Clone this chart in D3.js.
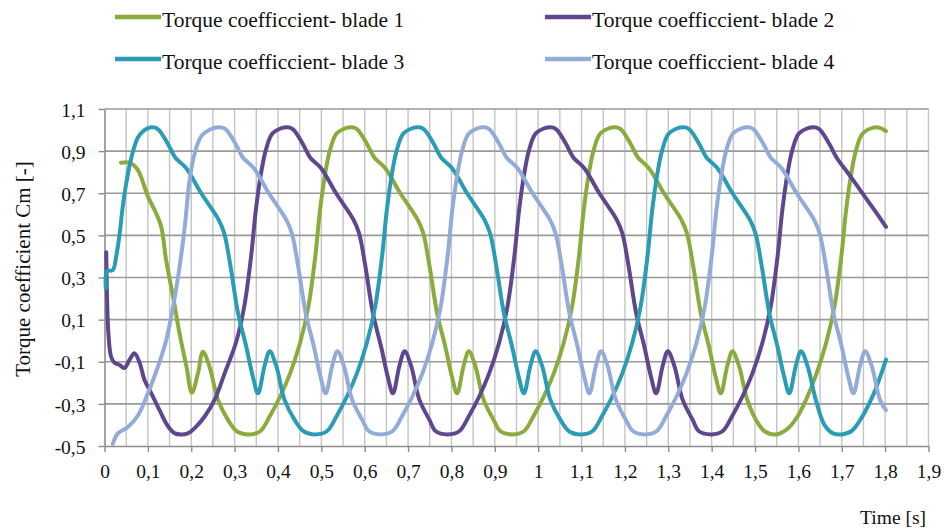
<!DOCTYPE html>
<html>
<head>
<meta charset="utf-8">
<script src="https://cdn.jsdelivr.net/npm/d3@7"></script>
</head>
<body style="margin:0">
<script>
// ---------------- DATA ----------------
const seriesNames = [
  "Torque coefficcient- blade 1",
  "Torque coefficcient- blade 2",
  "Torque coefficcient- blade 3",
  "Torque coefficcient- blade 4"
];

const xTickValues = [0,0.1,0.2,0.3,0.4,0.5,0.6,0.7,0.8,0.9,1,1.1,1.2,1.3,1.4,1.5,1.6,1.7,1.8,1.9];
const yTickValues = [-0.5,-0.3,-0.1,0.1,0.3,0.5,0.7,0.9,1.1];

// Blade 1
const blade1Time = [0.038,0.058,0.077,0.100,0.119,0.131,0.142,0.158,0.173,0.189,0.2015,0.2155,0.227,0.242,0.262,0.285,
  0.305,0.332,0.359,0.382,0.405,0.428,0.451,0.470,0.486,0.497,0.509,0.520,0.536,0.567,0.582,0.605,0.622,0.647,0.682,0.722,0.735,0.749,0.767,0.786,0.801,0.813,0.828,0.840,0.855,0.874,0.897,
  0.913,0.940,0.967,0.990,1.013,1.036,1.059,1.078,1.094,1.105,1.117,1.128,1.144,1.175,1.190,1.213,1.230,1.255,1.290,1.330,1.343,1.357,1.375,1.394,1.409,1.421,1.436,1.448,1.463,1.482,1.502,
  1.522,1.548,1.574,1.598,1.620,1.642,1.664,1.683,1.699,1.710,1.722,1.733,1.749,1.780,1.802];
const blade1Cm = [0.845,0.845,0.81,0.685,0.605,0.54,0.383,0.21,0.035,-0.123,-0.247,-0.155,-0.052,-0.123,-0.282,-0.377,
  -0.43,-0.445,-0.43,-0.355,-0.265,-0.155,-0.01,0.16,0.40,0.62,0.795,0.905,0.985,1.013,1.005,0.935,0.87,0.82,0.70,0.575,0.51,0.36,0.13,-0.03,-0.17,-0.25,-0.12,-0.05,-0.12,-0.28,-0.375,
  -0.43,-0.445,-0.43,-0.355,-0.265,-0.155,-0.01,0.16,0.40,0.62,0.795,0.905,0.985,1.013,1.005,0.935,0.87,0.82,0.70,0.575,0.51,0.36,0.13,-0.03,-0.17,-0.25,-0.12,-0.05,-0.12,-0.28,-0.375,
  -0.43,-0.445,-0.42,-0.36,-0.27,-0.155,-0.01,0.16,0.40,0.62,0.795,0.905,0.985,1.013,0.995];

// Blade 2
const blade2Time = [0.004,0.006,0.009,0.015,0.023,0.035,0.046,0.058,0.069,0.081,0.092,0.108,0.127,0.146,0.162,0.177,0.192,0.208,0.231,0.254,0.277,
  0.303,0.322,0.338,0.349,0.361,0.372,0.388,0.419,0.434,0.457,0.474,0.499,0.534,0.574,0.587,0.601,0.619,0.638,0.653,0.665,0.680,0.692,0.707,0.726,0.749,
  0.764,0.791,0.818,0.841,0.864,0.887,0.910,0.929,0.945,0.956,0.968,0.979,0.995,1.026,1.041,1.064,1.081,1.106,1.141,1.181,1.194,1.208,1.226,1.245,1.260,1.272,1.287,1.299,1.314,1.333,1.356,
  1.371,1.398,1.425,1.448,1.471,1.494,1.517,1.536,1.552,1.563,1.575,1.586,1.602,1.633,1.648,1.671,1.688,1.720,1.758,1.789,1.802];
const blade2Cm = [0.42,0.19,0.035,-0.075,-0.105,-0.115,-0.13,-0.09,-0.06,-0.105,-0.185,-0.25,-0.33,-0.405,-0.44,-0.445,-0.44,-0.415,-0.36,-0.28,-0.155,
  -0.01,0.16,0.40,0.62,0.795,0.905,0.985,1.013,1.005,0.935,0.87,0.82,0.70,0.575,0.51,0.36,0.13,-0.03,-0.17,-0.25,-0.12,-0.05,-0.12,-0.28,-0.375,
  -0.43,-0.445,-0.43,-0.355,-0.265,-0.155,-0.01,0.16,0.40,0.62,0.795,0.905,0.985,1.013,1.005,0.935,0.87,0.82,0.70,0.575,0.51,0.36,0.13,-0.03,-0.17,-0.25,-0.12,-0.05,-0.12,-0.28,-0.375,
  -0.43,-0.445,-0.43,-0.355,-0.265,-0.155,-0.01,0.16,0.40,0.62,0.795,0.905,0.985,1.013,1.005,0.935,0.87,0.78,0.67,0.58,0.54];

// Blade 3
const blade3Time = [0.003,0.006,0.019,0.027,0.035,0.042,0.050,0.062,0.077,0.092,0.108,
  0.123,0.146,0.163,0.188,0.223,0.263,0.276,0.290,0.308,0.327,0.342,0.354,0.369,0.381,0.396,0.415,0.438,
  0.459,0.486,0.513,0.536,0.559,0.582,0.605,0.624,0.640,0.651,0.663,0.674,0.690,0.721,0.736,0.759,0.776,0.801,0.836,0.876,0.889,0.903,0.921,0.940,0.955,0.967,0.982,0.994,1.009,1.028,1.051,
  1.071,1.098,1.125,1.148,1.171,1.194,1.217,1.236,1.252,1.263,1.275,1.286,1.302,1.333,1.348,1.371,1.388,1.413,1.448,1.488,1.501,1.515,1.533,1.552,1.567,1.579,1.594,1.606,1.621,1.640,
  1.660,1.680,1.700,1.722,1.743,1.774,1.802];
const blade3Cm = [0.25,0.33,0.335,0.40,0.51,0.635,0.745,0.87,0.965,1.0,1.013,
  1.005,0.935,0.87,0.82,0.70,0.575,0.51,0.36,0.13,-0.03,-0.17,-0.25,-0.12,-0.05,-0.12,-0.28,-0.375,
  -0.43,-0.445,-0.43,-0.355,-0.265,-0.155,-0.01,0.16,0.40,0.62,0.795,0.905,0.985,1.013,1.005,0.935,0.87,0.82,0.70,0.575,0.51,0.36,0.13,-0.03,-0.17,-0.25,-0.12,-0.05,-0.12,-0.28,-0.375,
  -0.43,-0.445,-0.43,-0.355,-0.265,-0.155,-0.01,0.16,0.40,0.62,0.795,0.905,0.985,1.013,1.005,0.935,0.87,0.82,0.70,0.575,0.51,0.36,0.13,-0.03,-0.17,-0.25,-0.12,-0.05,-0.12,-0.28,
  -0.40,-0.44,-0.445,-0.43,-0.375,-0.25,-0.09];

// Blade 4
const blade4Time = [0.019,0.031,0.054,0.077,0.100,0.123,0.142,0.158,0.173,0.185,0.196,0.208,0.223,0.246,0.264,
  0.279,0.302,0.319,0.344,0.379,0.419,0.432,0.446,0.464,0.483,0.498,0.510,0.525,0.537,0.552,0.571,0.594,
  0.610,0.637,0.664,0.687,0.710,0.733,0.756,0.775,0.791,0.802,0.814,0.825,0.841,0.872,0.887,0.910,0.927,0.952,0.987,1.027,1.040,1.054,1.072,1.091,1.106,1.118,1.133,1.145,1.160,1.179,1.202,
  1.219,1.246,1.273,1.296,1.319,1.342,1.365,1.384,1.400,1.411,1.423,1.434,1.450,1.481,1.496,1.519,1.536,1.561,1.596,1.636,1.649,1.663,1.681,1.700,1.715,1.727,1.742,1.754,1.769,1.788,1.802];
const blade4Cm = [-0.49,-0.44,-0.41,-0.355,-0.25,-0.125,0.0,0.16,0.35,0.54,0.76,0.89,0.97,1.005,1.013,
  1.005,0.935,0.87,0.82,0.70,0.575,0.51,0.36,0.13,-0.03,-0.17,-0.25,-0.12,-0.05,-0.12,-0.28,-0.375,
  -0.43,-0.445,-0.43,-0.355,-0.265,-0.155,-0.01,0.16,0.40,0.62,0.795,0.905,0.985,1.013,1.005,0.935,0.87,0.82,0.70,0.575,0.51,0.36,0.13,-0.03,-0.17,-0.25,-0.12,-0.05,-0.12,-0.28,-0.375,
  -0.43,-0.445,-0.43,-0.355,-0.265,-0.155,-0.01,0.16,0.40,0.62,0.795,0.905,0.985,1.013,1.005,0.935,0.87,0.82,0.70,0.575,0.51,0.36,0.13,-0.03,-0.17,-0.25,-0.12,-0.05,-0.12,-0.28,-0.33];

const seriesColors = ["#8aac3c", "#5f4790", "#2b9cb6", "#93abd9"];

// ---------------- CHART ----------------
const FONT = "Liberation Serif";
const svg = d3.select("body").append("svg")
  .attr("width", 944).attr("height", 531)
  .attr("font-family", FONT);
const x = d3.scaleLinear().domain([0, 1.9]).range([104.5, 928.5]);
const y = d3.scaleLinear().domain([-0.5, 1.1]).range([446, 109]);

const fmt = v => String(Math.round(v * 10) / 10).replace(".", ",");

// vertical gridlines every 0.05
const vGrid = d3.range(1, 39).map(i => i * 0.05);
svg.append("g").selectAll("line").data(vGrid).join("line")
  .attr("x1", d => x(d)).attr("x2", d => x(d))
  .attr("y1", y(1.1)).attr("y2", y(-0.5))
  .attr("stroke", "#c4c4c4").attr("stroke-width", 1.4);

// horizontal gridlines
svg.append("g").selectAll("line").data(yTickValues.slice(1)).join("line")
  .attr("x1", x(0)).attr("x2", x(1.9))
  .attr("y1", d => y(d)).attr("y2", d => y(d))
  .attr("stroke", "#999999").attr("stroke-width", 1.6);

// axes
const xAxis = svg.append("g").attr("transform", `translate(0,${y(-0.5)})`)
  .call(d3.axisBottom(x).tickValues(xTickValues).tickFormat(fmt).tickSize(6).tickSizeOuter(0));
xAxis.attr("font-family", FONT).attr("font-size", 19.5);
xAxis.select(".domain").attr("stroke", "#8c8c8c").attr("stroke-width", 1.6);
xAxis.selectAll(".tick line").attr("stroke", "#8c8c8c").attr("stroke-width", 1.4);
xAxis.selectAll(".tick text").attr("y", 32).attr("dy", 0)
  .attr("font-family", FONT).attr("font-size", 19.5).attr("fill", "#111");

const yAxis = svg.append("g").attr("transform", `translate(${x(0)},0)`)
  .call(d3.axisLeft(y).tickValues(yTickValues).tickFormat(fmt).tickSize(6).tickSizeOuter(0).tickPadding(13));
yAxis.attr("font-family", FONT).attr("font-size", 19.5);
yAxis.select(".domain").attr("stroke", "#8c8c8c").attr("stroke-width", 1.6);
yAxis.selectAll(".tick line").attr("stroke", "#8c8c8c").attr("stroke-width", 1.4);
yAxis.selectAll(".tick text").attr("dy", "0.37em")
  .attr("font-family", FONT).attr("font-size", 19.5).attr("fill", "#111");

// series lines
const allSeries = [
  blade1Time.map((t, i) => [t, blade1Cm[i]]),
  blade2Time.map((t, i) => [t, blade2Cm[i]]),
  blade3Time.map((t, i) => [t, blade3Cm[i]]),
  blade4Time.map((t, i) => [t, blade4Cm[i]])
];
const line = d3.line().x(d => x(d[0])).y(d => y(d[1])).curve(d3.curveCatmullRom.alpha(0.5));
svg.append("g").selectAll("path").data(allSeries).join("path")
  .attr("d", line)
  .attr("fill", "none")
  .attr("stroke", (d, i) => seriesColors[i])
  .attr("stroke-width", 4)
  .attr("stroke-linejoin", "round")
  .attr("stroke-linecap", "round");

// axis titles
svg.append("text")
  .attr("transform", `translate(30,${269}) rotate(-90)`)
  .attr("text-anchor", "middle")
  .attr("fill", "#111")
  .attr("font-family", FONT)
  .attr("font-size", 21)
  .text("Torque coefficient Cm [-]");

svg.append("text")
  .attr("x", 926).attr("y", 524)
  .attr("text-anchor", "end")
  .attr("fill", "#111")
  .attr("font-family", FONT)
  .attr("font-size", 19.5)
  .text("Time [s]");

// legend
const legendPos = [[115, 17], [545, 17], [115, 59], [545, 59]];
const leg = svg.append("g").selectAll("g").data(seriesNames).join("g")
  .attr("transform", (d, i) => `translate(${legendPos[i][0]},${legendPos[i][1]})`);
leg.append("line").attr("x1", 0).attr("x2", 46).attr("y1", 0).attr("y2", 0)
  .attr("stroke", (d, i) => seriesColors[i]).attr("stroke-width", 4.5);
leg.append("text").attr("x", 47).attr("y", 9.5)
  .attr("fill", "#111")
  .attr("font-family", FONT)
  .attr("font-size", 21.5)
  .text(d => d);
</script>
</body>
</html>
